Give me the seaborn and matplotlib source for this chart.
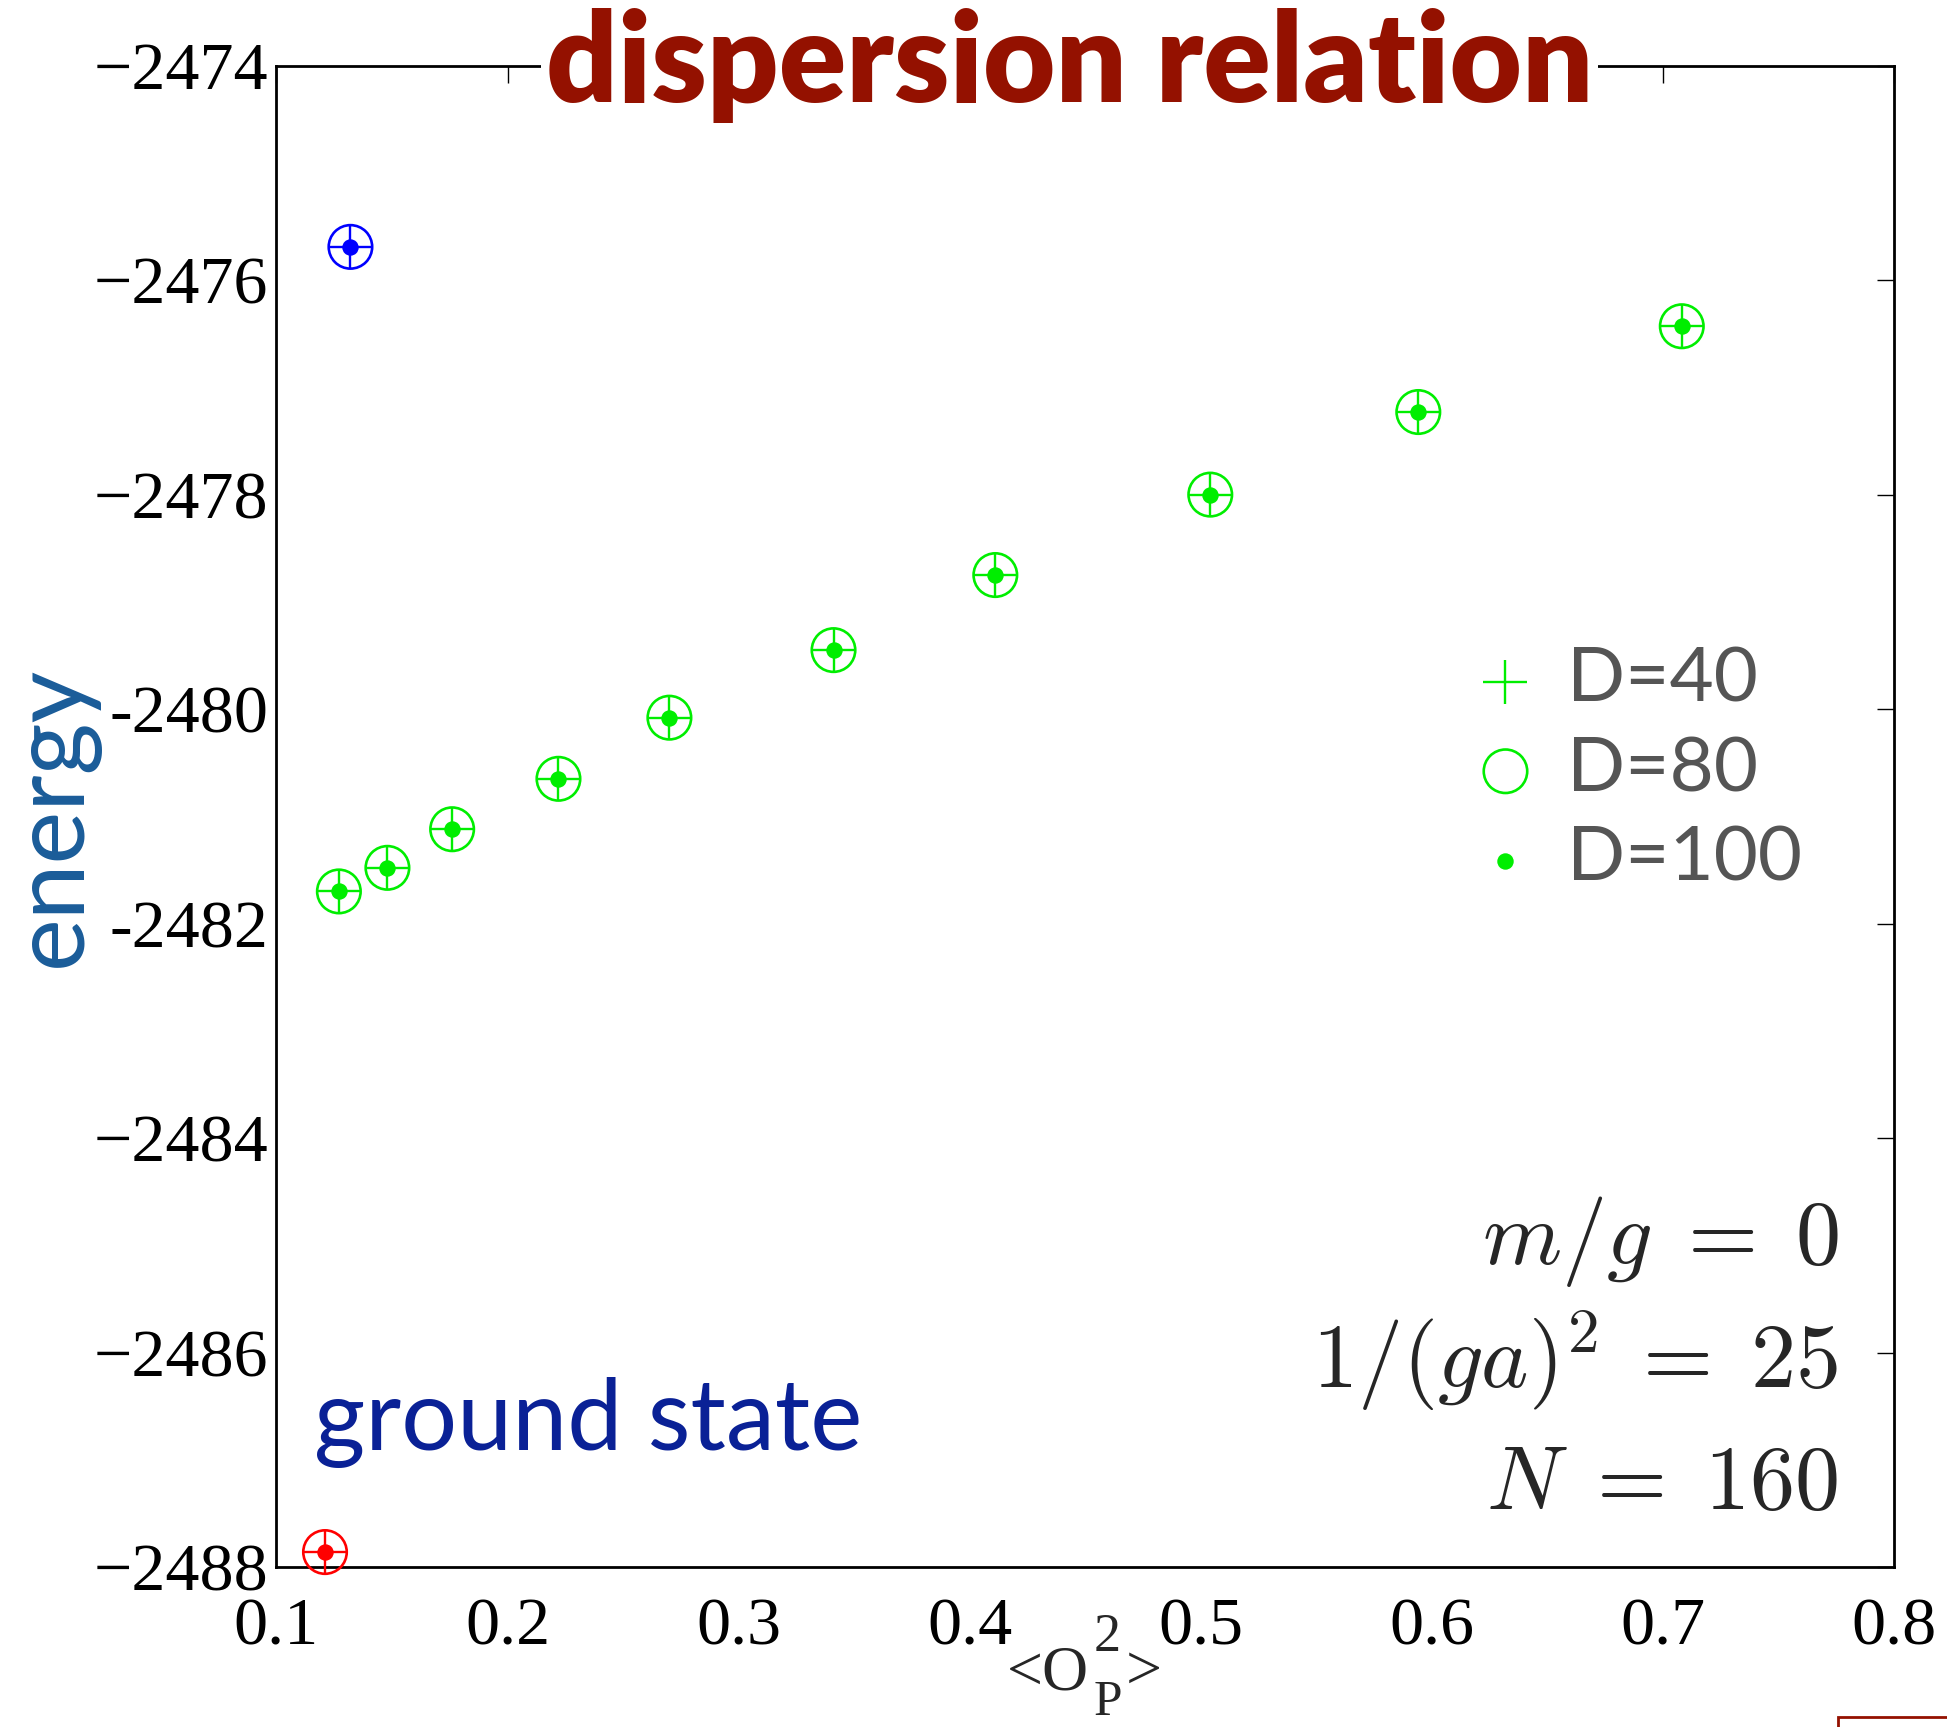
import matplotlib
matplotlib.use('Agg')
import matplotlib.pyplot as plt
import seaborn as sns
from matplotlib.patches import Rectangle

# dispersion relation data, N=160, m/g=0, 1/(ga)^2=25
op2 = [0.127, 0.148, 0.176, 0.222, 0.270, 0.341, 0.411, 0.504, 0.594, 0.708]
energy = [-2481.70, -2481.48, -2481.12, -2480.65, -2480.08, -2479.45,
          -2478.75, -2478.00, -2477.23, -2476.43]

# ground state (red) and the isolated blue state
ground_x = [0.121]
ground_y = [-2487.86]
blue_x = [0.132]
blue_y = [-2475.69]

bond_dims = ['D=40', 'D=80', 'D=100']

xticks = [0.1, 0.2, 0.3, 0.4, 0.5, 0.6, 0.7, 0.8]
xtick_labels = ['0.1', '0.2', '0.3', '0.4', '0.5', '0.6', '0.7', '0.8']
yticks = [-2474, -2476, -2478, -2480, -2482, -2484, -2486, -2488]
ytick_labels = ['\u22122474', '\u22122476', '\u22122478', '-2480', '-2482',
                '\u22122484', '\u22122486', '\u22122488']

sns.set_theme(style='white')
plt.rcParams['mathtext.fontset'] = 'cm'
plt.rcParams['font.family'] = ['Liberation Serif', 'DejaVu Serif']
sans = ['Lato', 'DejaVu Sans']

fig = plt.figure(figsize=(19.47, 17.27), dpi=100)
ax = fig.add_axes([0.142, 0.0926, 0.831, 0.8694])

series = [(op2, energy, '#00ee00', True),
          (blue_x, blue_y, '#0000ff', False),
          (ground_x, ground_y, '#ff0000', False)]

for xs, ys, col, lab in series:
    sns.scatterplot(x=xs, y=ys, marker='+', s=1000, color=col, linewidth=1.7,
                    label=bond_dims[0] if lab else None, ax=ax, clip_on=False, zorder=3)
    sns.scatterplot(x=xs, y=ys, marker='o', s=980, facecolor='none', edgecolor=col,
                    linewidth=1.9, label=bond_dims[1] if lab else None, ax=ax,
                    clip_on=False, zorder=3)
    sns.scatterplot(x=xs, y=ys, marker='o', s=140, color=col, edgecolor=col, linewidth=0,
                    label=bond_dims[2] if lab else None, ax=ax, clip_on=False, zorder=4)

ax.set_xlim(0.1, 0.8)
ax.set_ylim(-2488, -2474)
ax.set_xticks(xticks)
ax.set_xticklabels(xtick_labels)
ax.set_yticks(yticks)
ax.set_yticklabels(ytick_labels)
ax.tick_params(direction='in', length=12, width=1, top=True, right=True,
               labelsize=49, colors='black')
ax.tick_params(axis='x', pad=22)
ax.tick_params(axis='y', pad=6)
for sp in ax.spines.values():
    sp.set_color('black')
    sp.set_linewidth(2)

# y label
ax.set_ylabel('energy', fontsize=72, color='#1a5c99', family=sans)
ax.yaxis.set_label_coords(-0.110, 0.5)
ax.set_xlabel('')

# x label <O_P^2> with large scripts
xl = dict(xycoords='axes fraction', textcoords='offset pixels', va='baseline')
ax.annotate('<O', xy=(0.5, 0), xytext=(4, -122), ha='right', fontsize=46, **xl)
ax.annotate('2', xy=(0.5, 0), xytext=(8, -84), ha='left', fontsize=39, **xl)
ax.annotate('P', xy=(0.5, 0), xytext=(8, -148), ha='left', fontsize=37, **xl)
ax.annotate('>', xy=(0.5, 0), xytext=(40, -122), ha='left', fontsize=46, **xl)

# title sitting on the top spine
ax.text(0.49, 1.0, 'dispersion relation', transform=ax.transAxes, ha='center', va='center',
        fontsize=90, fontweight='heavy', color='#941100', family=sans,
        bbox=dict(facecolor='white', edgecolor='none', pad=4), zorder=5)

ax.text(0.023, 0.078, 'ground state', transform=ax.transAxes, ha='left', va='baseline',
        fontsize=71, color='#0a2196', family=sans)

ax.text(0.9654, 0.2017, r'$m/g\;=\;0$', transform=ax.transAxes, ha='right', va='baseline', fontsize=65)
ax.text(0.9654, 0.1192, r'$1/(ga)^2\;=\;25$', transform=ax.transAxes, ha='right', va='baseline', fontsize=65)
ax.text(0.9654, 0.0386, r'$N\;=\;160$', transform=ax.transAxes, ha='right', va='baseline', fontsize=65)

leg = ax.legend(loc='center left', bbox_to_anchor=(0.736, 0.531), frameon=False,
                handlelength=1.0, handletextpad=0.3, labelspacing=0.27,
                borderpad=0, borderaxespad=0,
                prop={'family': sans, 'size': 55, 'weight': 'normal'})
for t in leg.get_texts():
    t.set_color('#555555')

# partial box at the bottom-right edge
fig.patches.append(Rectangle((0.944, -0.02), 0.1, 0.026, transform=fig.transFigure,
                             fill=False, edgecolor='#941100', linewidth=2))

fig.savefig('out.png', dpi=100, facecolor='white')
